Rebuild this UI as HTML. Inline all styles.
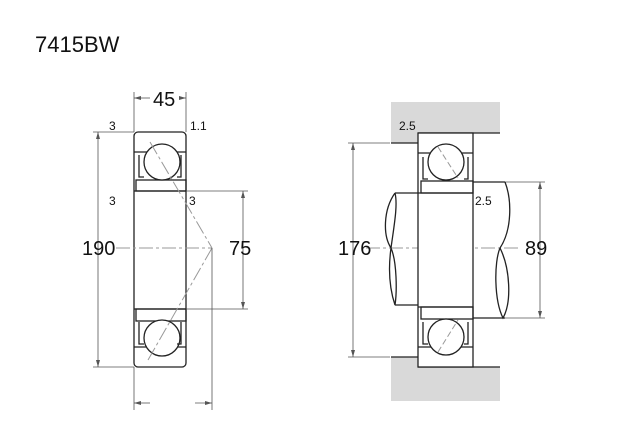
<!DOCTYPE html>
<html><head><style>body{margin:0;background:#fff}svg{display:block}text{font-family:"Liberation Sans",sans-serif;fill:#111}</style></head><body>
<svg width="640" height="440" viewBox="0 0 640 440" xmlns="http://www.w3.org/2000/svg">
<text x="35" y="52" font-size="22">7415BW</text>
<g fill="none" stroke="#222" stroke-width="1.3">
<rect x="134" y="132" width="52" height="235" rx="4"/>
<line x1="134" y1="152" x2="186" y2="152"/>
<rect x="136" y="180" width="50" height="11"/>
<line x1="134" y1="191" x2="186" y2="191"/>
<line x1="134" y1="309" x2="186" y2="309"/>
<rect x="136" y="309" width="50" height="12"/>
<line x1="134" y1="347" x2="186" y2="347"/>
<circle cx="162" cy="162" r="18" fill="#fff"/>
<circle cx="162" cy="338" r="18" fill="#fff"/>
<path d="M139 155 v22 h5 M181 155 v22 h-4 M139 322 v22 h5 M181 322 v22 h-4"/>
</g>
<g stroke="#999" stroke-width="1" fill="none" stroke-dasharray="14,3,3,3">
<line x1="116" y1="248" x2="212" y2="248"/>
<line x1="150" y1="142" x2="212" y2="248"/>
<line x1="212" y1="248" x2="148" y2="360"/>
<line x1="366" y1="248" x2="520" y2="248"/>
</g>
<g stroke="#555" stroke-width="0.8" fill="none">
<line x1="98" y1="132" x2="98" y2="367"/>
<line x1="93" y1="132" x2="134" y2="132"/>
<line x1="93" y1="367" x2="134" y2="367"/>
<line x1="243" y1="191" x2="243" y2="309"/>
<line x1="186" y1="191" x2="248" y2="191"/>
<line x1="186" y1="309" x2="248" y2="309"/>
<line x1="134" y1="92" x2="134" y2="132"/>
<line x1="186" y1="92" x2="186" y2="132"/>
<line x1="134" y1="98" x2="150" y2="98"/>
<line x1="180" y1="98" x2="186" y2="98"/>
<line x1="134" y1="367" x2="134" y2="410"/>
<line x1="212" y1="248" x2="212" y2="410"/>
<line x1="134" y1="403" x2="150" y2="403"/>
<line x1="195" y1="403" x2="212" y2="403"/>
<line x1="353" y1="143" x2="353" y2="357"/>
<line x1="348" y1="143" x2="390" y2="143"/>
<line x1="348" y1="357" x2="390" y2="357"/>
<line x1="540" y1="182" x2="540" y2="318"/>
<line x1="500" y1="182" x2="545" y2="182"/>
<line x1="500" y1="318" x2="545" y2="318"/>
</g>
<g fill="#555">
<path d="M98 132 l-2 7 h4z M98 367 l-2 -7 h4z M243 191 l-2 7 h4z M243 309 l-2 -7 h4z M353 143 l-2 7 h4z M353 357 l-2 -7 h4z M540 182 l-2 7 h4z M540 318 l-2 -7 h4z M134 98 l7 -2 v4z M186 98 l-7 -2 v4z M134 403 l7 -2 v4z M212 403 l-7 -2 v4z"/>
</g>
<text x="153" y="106" font-size="20">45</text>
<text x="109" y="130" font-size="12">3</text>
<text x="190" y="130" font-size="12">1.1</text>
<text x="109" y="205" font-size="12">3</text>
<text x="189" y="205" font-size="12">3</text>
<text x="82" y="255" font-size="20">190</text>
<text x="229" y="255" font-size="20">75</text>
<rect x="391" y="102" width="109" height="31" fill="#d9d9d9"/>
<rect x="391" y="133" width="27" height="10" fill="#d9d9d9"/>
<rect x="391" y="367" width="109" height="34" fill="#d9d9d9"/>
<rect x="391" y="357" width="27" height="10" fill="#d9d9d9"/>
<g fill="none" stroke="#222" stroke-width="1.3">
<path d="M391 143 H418 M418 133 H500 M391 357 H418 M418 367 H500"/>
<path d="M418 193 H395 M418 305 H395 M473 182 H505 M473 318 H505" />
<path d="M395 193 C383 210 383 236 391 248 C397 262 397 292 395 305 C390 290 388 270 391 248 C394 226 398 205 395 193"/>
<path d="M505 182 C512 200 512 230 500 248 C494 262 494 300 503 318 C512 302 510 268 500 248"/>
<rect x="418" y="133" width="55" height="234" fill="#fff"/>
<line x1="418" y1="153" x2="473" y2="153"/>
<rect x="421" y="181" width="52" height="12"/>
<line x1="418" y1="193" x2="473" y2="193"/>
<line x1="418" y1="307" x2="473" y2="307"/>
<rect x="421" y="307" width="52" height="12"/>
<line x1="418" y1="347" x2="473" y2="347"/>
<circle cx="446" cy="162" r="18" fill="#fff"/>
<circle cx="446" cy="337" r="18" fill="#fff"/>
<path d="M423 157 v22 h5 M468 157 v22 h-4 M423 322 v22 h5 M468 322 v22 h-4"/>
</g>
<g stroke="#999" stroke-width="1" stroke-dasharray="6,3"><line x1="438" y1="147" x2="458" y2="178"/><line x1="438" y1="352" x2="458" y2="320"/></g>
<text x="399" y="130" font-size="12">2.5</text>
<text x="475" y="205" font-size="12">2.5</text>
<text x="338" y="255" font-size="20">176</text>
<text x="525" y="255" font-size="20">89</text>
</svg>
</body></html>
